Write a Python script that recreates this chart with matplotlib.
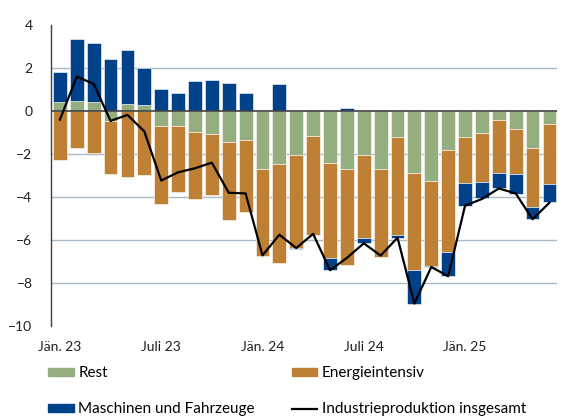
import matplotlib
matplotlib.use('Agg')
import matplotlib.pyplot as plt
from matplotlib.patches import Patch
from matplotlib.lines import Line2D
import numpy as np

plt.rcParams['font.family'] = ['Lato', 'DejaVu Sans']

# Jan 2023 .. Jun 2025, contributions in percentage points
months = ['Jän. 23', '', '', '', '', '', 'Juli 23', '', '', '', '', '',
          'Jän. 24', '', '', '', '', '', 'Juli 24', '', '', '', '', '',
          'Jän. 25', '', '', '', '', '']
rest = [0.43, 0.48, 0.43, -0.46, 0.32, 0.26, -0.71, -0.71, -0.97, -1.08, -1.43, -1.34,
        -2.68, -2.46, -2.06, -1.17, -2.42, -2.68, -2.06, -2.68, -1.23, -2.88, -3.25, -1.80,
        -1.23, -1.03, -0.40, -0.82, -1.74, -0.62]
energie = [-2.26, -1.74, -1.95, -2.46, -3.08, -2.97, -3.60, -3.04, -3.14, -2.83, -3.65, -3.34,
           -4.06, -4.59, -4.31, -4.58, -4.43, -4.46, -3.86, -4.10, -4.54, -4.49, -3.97, -4.74,
           -2.12, -2.26, -2.48, -2.10, -2.74, -2.77]
maschinen = [1.39, 2.87, 2.71, 2.43, 2.51, 1.76, 1.03, 0.83, 1.40, 1.45, 1.31, 0.83,
             0.00, 1.25, -0.05, 0.06, -0.55, 0.15, -0.23, 0.06, -0.14, -1.58, -0.05, -1.14,
             -1.06, -0.77, -0.72, -0.93, -0.55, -0.86]
gesamt = [-0.40, 1.60, 1.26, -0.46, -0.18, -0.95, -3.23, -2.85, -2.66, -2.40, -3.80, -3.83,
          -6.71, -5.75, -6.37, -5.71, -7.40, -6.83, -6.15, -6.72, -5.89, -8.95, -7.25, -7.68,
          -4.40, -4.09, -3.60, -3.83, -5.03, -4.26]

c_rest = '#95AE80'
c_energie = '#BE8035'
c_masch = '#004189'

fig = plt.figure(figsize=(5.69, 4.16), dpi=100)
ax = fig.add_axes([0.089, 0.216, 0.89, 0.724])

x = np.arange(len(months))
pos = np.zeros(len(x))
neg = np.zeros(len(x))
for vals, col in [(rest, c_rest), (energie, c_energie), (maschinen, c_masch)]:
    v = np.array(vals)
    bottom = np.where(v >= 0, pos, neg)
    ax.bar(x, v, bottom=bottom, width=0.82, color=col, edgecolor='white', linewidth=0.4, zorder=2)
    pos = pos + np.where(v >= 0, v, 0)
    neg = neg + np.where(v < 0, v, 0)

ax.plot(x, gesamt, color='black', lw=1.6, zorder=4)

for g in [2, -2, -4, -6, -8]:
    ax.axhline(g, color='#A9BAC6', lw=1.0, zorder=1)
ax.axhline(0, color='#404040', lw=1.2, zorder=3)

ax.set_xlim(-0.55, len(x) - 0.55)
ax.set_ylim(-10, 4)
ax.set_yticks(range(-10, 5, 2))
ax.set_xticks(x)
ax.set_xticklabels(months)
ax.tick_params(length=0, labelsize=10, colors='#202020')
ax.tick_params(axis='y', pad=13)
ax.tick_params(axis='x', pad=11)
for s in ['top', 'right', 'bottom']:
    ax.spines[s].set_visible(False)
ax.spines['left'].set_color('#404040')
ax.spines['left'].set_linewidth(1.0)

handles = [Patch(color=c_rest, label='Rest'),
           Patch(color=c_masch, label='Maschinen und Fahrzeuge'),
           Patch(color=c_energie, label='Energieintensiv'),
           Line2D([], [], color='black', lw=1.6, label='Industrieproduktion insgesamt')]
fig.legend(handles=handles, ncol=2, loc='upper left', bbox_to_anchor=(0.084, 0.12),
           frameon=False, fontsize=11, handlelength=1.7, handleheight=0.45,
           handletextpad=0.3, columnspacing=2.4, labelspacing=1.46, borderpad=0, borderaxespad=0)

fig.savefig('out.png', dpi=100)
